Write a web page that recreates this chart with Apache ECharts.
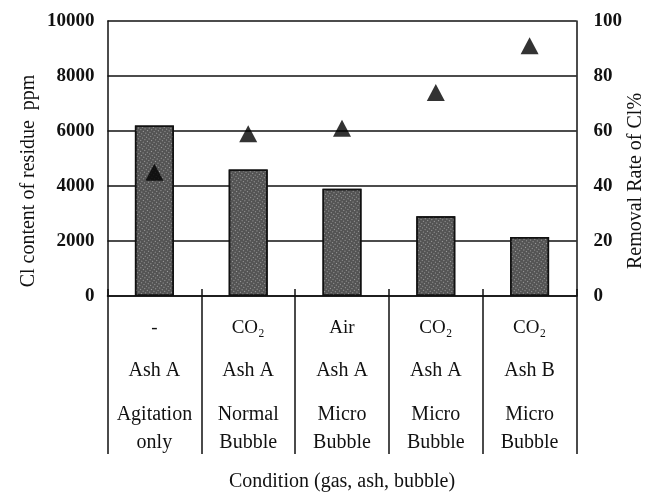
<!DOCTYPE html>
<html>
<head>
<meta charset="utf-8">
<script src="https://cdn.jsdelivr.net/npm/echarts@6/dist/echarts.min.js"></script>
<style>
  html, body { margin: 0; padding: 0; background: #fff; overflow: hidden; }
  #chart { width: 651px; height: 497px; display: block; }
</style>
</head>
<body>
<div id="chart"></div>
<script>
// Condition of each run: gas, ash type, bubble type (two lines)
const gasLabels = ['-', 'CO₂', 'Air', 'CO₂', 'CO₂'];
const ashLabels = ['Ash A', 'Ash A', 'Ash A', 'Ash A', 'Ash B'];
const bubbleLine1 = ['Agitation', 'Normal', 'Micro', 'Micro', 'Micro'];
const bubbleLine2 = ['only', 'Bubble', 'Bubble', 'Bubble', 'Bubble'];
const categories = ['c1', 'c2', 'c3', 'c4', 'c5'];

// Cl content of residue (ppm) and removal rate of Cl (%)
const clContent = [6200, 4600, 3900, 2900, 2150];
const removalRate = [45, 59, 61, 74, 91];

const serif = "'Liberation Serif', 'Times New Roman', serif";
const ink = '#111';

const chart = echarts.init(document.getElementById('chart'));

chart.setOption({
  animation: false,
  backgroundColor: '#fff',
  aria: { enabled: false, decal: { show: true } },
  grid: { left: 107.5, right: 74.5, top: 21, bottom: 197 },
  xAxis: [
    {
      type: 'category',
      data: categories,
      position: 'bottom',
      axisLine: { show: true, lineStyle: { color: ink, width: 1.5 } },
      axisTick: { show: true, interval: 0, length: 158, lineStyle: { color: ink, width: 1.5 } },
      axisLabel: {
        interval: 0,
        margin: 19,
        formatter: function (v, i) {
          return '{a|' + gasLabels[i] + '}\n{b|' + ashLabels[i] + '}\n{c|' +
            bubbleLine1[i] + '}\n{c|' + bubbleLine2[i] + '}';
        },
        rich: {
          a: { fontFamily: serif, fontSize: 19, color: ink, lineHeight: 26 },
          b: { fontFamily: serif, fontSize: 20, color: ink, lineHeight: 60 },
          c: { fontFamily: serif, fontSize: 20, color: ink, lineHeight: 28 }
        }
      },
      splitLine: { show: false },
      name: 'Condition (gas, ash, bubble)',
      nameLocation: 'middle',
      nameGap: 176,
      nameTextStyle: { fontFamily: serif, fontSize: 20, color: ink }
    },
    {
      type: 'category',
      data: categories,
      position: 'bottom',
      axisLine: { show: false },
      axisTick: { show: true, inside: true, interval: 0, length: 7, lineStyle: { color: ink, width: 1.5 } },
      axisLabel: { show: false },
      splitLine: { show: false }
    }
  ],
  yAxis: [
    {
      type: 'value',
      min: 0,
      max: 10000,
      interval: 2000,
      axisLine: { show: true, lineStyle: { color: ink, width: 1.5 } },
      axisTick: { show: false },
      axisLabel: {
        margin: 13,
        padding: [6, 0, 0, 0],
        fontFamily: serif,
        fontSize: 19,
        fontWeight: 'bold',
        color: ink,
        formatter: function (v) { return String(v); }
      },
      splitLine: { show: true, lineStyle: { color: ink, width: 1.5 } }
    },
    {
      type: 'value',
      min: 0,
      max: 100,
      interval: 20,
      position: 'right',
      axisLine: { show: true, lineStyle: { color: ink, width: 1.5 } },
      axisTick: { show: false },
      axisLabel: {
        margin: 17,
        padding: [6, 0, 0, 0],
        fontFamily: serif,
        fontSize: 19,
        fontWeight: 'bold',
        color: ink,
        formatter: function (v) { return String(v); }
      },
      splitLine: { show: false }
    }
  ],
  graphic: [
    {
      type: 'text',
      x: 29,
      y: 181,
      rotation: Math.PI / 2,
      style: {
        text: 'Cl content of residue  ppm',
        font: '20px ' + serif,
        fill: ink,
        align: 'center',
        verticalAlign: 'middle'
      }
    },
    {
      type: 'text',
      x: 636,
      y: 181,
      rotation: Math.PI / 2,
      style: {
        text: 'Removal Rate of Cl%',
        font: '20px ' + serif,
        fill: ink,
        align: 'center',
        verticalAlign: 'middle'
      }
    }
  ],
  series: [
    {
      type: 'bar',
      xAxisIndex: 0,
      yAxisIndex: 0,
      data: clContent,
      barWidth: 39,
      itemStyle: {
        color: '#545454',
        borderColor: ink,
        borderWidth: 1.5,
        // fine light speckle to give the stippled halftone fill
        decal: {
          symbol: 'rect',
          symbolSize: 1,
          color: 'rgba(255,255,255,0.45)',
          dashArrayX: [1, 2],
          dashArrayY: [1, 2],
          rotation: 0.6
        }
      }
    },
    {
      type: 'scatter',
      xAxisIndex: 0,
      yAxisIndex: 1,
      data: removalRate,
      symbol: 'triangle',
      symbolSize: [18, 17],
      itemStyle: { color: '#000' },
      z: 5
    }
  ]
});
</script>
</body>
</html>
